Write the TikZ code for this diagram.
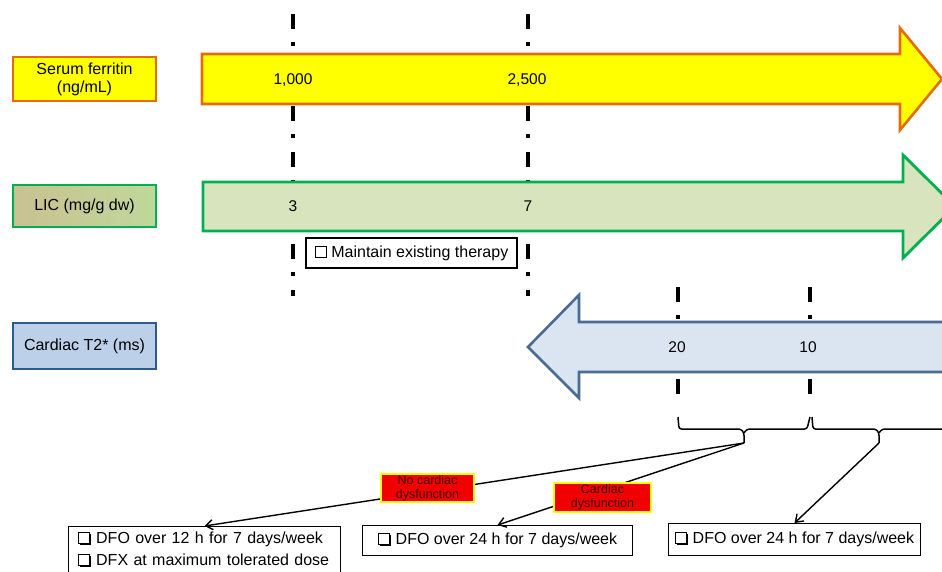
\documentclass[tikz,border=0pt]{standalone}
\usepackage{fontspec}
\setmainfont{Liberation Sans}
\usetikzlibrary{arrows.meta}
\definecolor{yel}{HTML}{FFFF00}
\definecolor{orng}{HTML}{E46C0A}
\definecolor{grnb}{HTML}{00B050}
\definecolor{grnf}{HTML}{D7E4BD}
\definecolor{licl}{HTML}{C9C191}
\definecolor{licr}{HTML}{BFD89A}
\definecolor{bluf}{HTML}{DBE5F1}
\definecolor{blub}{HTML}{4A6B94}
\definecolor{cardf}{HTML}{BDD0E9}
\definecolor{cardb}{HTML}{2F5A8C}
\definecolor{redl}{HTML}{F00000}
\newcommand{\plainbox}{\tikz[baseline=0pt]\draw[line width=1.2pt] (0pt,0pt) rectangle (11pt,11pt);}
\newcommand{\shadbox}{\tikz[baseline=0pt]{\fill[black] (1.8pt,-1.8pt) rectangle (12.8pt,9.2pt); \draw[line width=1pt,fill=white] (0pt,0pt) rectangle (11pt,11pt);}}
\tikzset{
  txt/.style={font=\fontsize{16}{18}\selectfont},
  num/.style={font=\fontsize{15.5}{18}\selectfont, inner sep=0pt},
  dashln/.style={line width=4pt, dash pattern=on 15pt off 13pt on 4pt off 14pt},
  sidelbl/.style={txt, minimum width=143pt, inner sep=0pt, align=center, line width=2.6pt},
  whitebox/.style={txt, draw=black, fill=white, line width=1.1pt, minimum height=30pt, inner ysep=0pt, inner xsep=0pt},
  redlbl/.style={fill=redl, draw=yel, line width=2.6pt, inner sep=0pt, align=center,
                 font=\fontsize{12.5}{14}\selectfont, text=black!75!red},
  bracepath/.style={line width=1.5pt, rounded corners=2.5pt},
  conn/.style={line width=1.4pt, -{Straight Barb[length=7pt,width=10pt]}}
}
\begin{document}
\begin{tikzpicture}[x=1pt,y=-1pt]
\useasboundingbox (0,0) rectangle (942,571);
\clip (0,0) rectangle (942,571);
\fill[white] (0,0) rectangle (942,571);

% dash-dot guide lines
\draw[dashln] (293,14) -- (293,296);
\draw[dashln] (528,14) -- (528,296);
\draw[dashln] (678,287) -- (678,394);
\draw[dashln] (810,287) -- (810,394);

% big arrows
\draw[fill=yel, draw=orng, line width=2.6pt, line join=miter]
  (202,54) -- (900,54) -- (900,28) -- (942,79) -- (900,130) -- (900,104) -- (202,104) -- cycle;
\draw[fill=grnf, draw=grnb, line width=2.8pt, line join=miter]
  (203,182) -- (903,182) -- (903,155) -- (955,206.5) -- (903,258) -- (903,231) -- (203,231) -- cycle;
\draw[fill=bluf, draw=blub, line width=2.6pt, line join=miter]
  (960,322) -- (579,322) -- (579,295) -- (528,347) -- (579,398) -- (579,372) -- (960,372) -- cycle;

% numbers
\node[num] (n1000) at (293,80) {1,000};
\node[num] (n2500) at (527,80) {2,500};
\node[num] (n3) at (293,206) {3};
\node[num] (n7) at (528,206) {7};
\node[num] (n20) at (677,347) {20};
\node[num] (n10) at (808,347) {10};

% side labels
\node[sidelbl, fill=yel, draw=orng, minimum height=44pt] (serum) at (84.5,79) {Serum ferritin\\(ng/mL)};
\node[sidelbl, left color=licl, right color=licr, draw=grnb, minimum height=42pt] (lic) at (84.5,206) {LIC (mg/g dw)};
\node[sidelbl, fill=cardf, draw=cardb, minimum height=46pt] (cardiac) at (84.5,346) {Cardiac T2* (ms)};

% maintain box
\node[whitebox, minimum width=211pt] (maintain) at (411.5,253) {\plainbox\ Maintain existing therapy};

% braces
\draw[bracepath] (678,417) -- (679,429) -- (741,429) -- (744,433) -- (744,443);
\draw[bracepath] (744,433) -- (747,429) -- (807,429) -- (810,417);
\draw[bracepath] (812,417) -- (813,429) -- (876,429) -- (879,433) -- (879,443);
\draw[bracepath] (879,433) -- (882,429) -- (950,429);
\coordinate (tipA) at (744,443);
\coordinate (tipB) at (879,443);

% treatment boxes
\node[whitebox, anchor=north west, text width=254pt, inner xsep=9pt, inner ysep=5pt,
      minimum height=10pt, align=left, font=\fontsize{16}{22.5}\selectfont] (box1) at (68,526)
  {\shadbox\ DFO over 12 h for 7 days/week\\\shadbox\ DFX at maximum tolerated dose\rule[-10pt]{0pt}{10pt}};
\node[whitebox, anchor=north west, minimum width=270pt] (box2) at (362,525)
  {\shadbox\ DFO over 24 h for 7 days/week\hspace{10pt}};
\node[whitebox, anchor=north west, minimum width=252pt, minimum height=32pt] (box3) at (668,523)
  {\shadbox\ DFO over 24 h for 7 days/week};

% connectors
\draw[conn] (tipA) -- (box1.north);
\draw[conn] (tipA) -- (box2.north);
\draw[conn] (tipB) -- (box3.north);

% condition labels
\node[redlbl, minimum width=93pt, minimum height=28pt] (nocard) at (427.5,488) {No cardiac\\dysfunction};
\node[redlbl, minimum width=97pt, minimum height=29pt] (card) at (602.5,497.5) {Cardiac\\dysfunction};
\end{tikzpicture}
\end{document}
